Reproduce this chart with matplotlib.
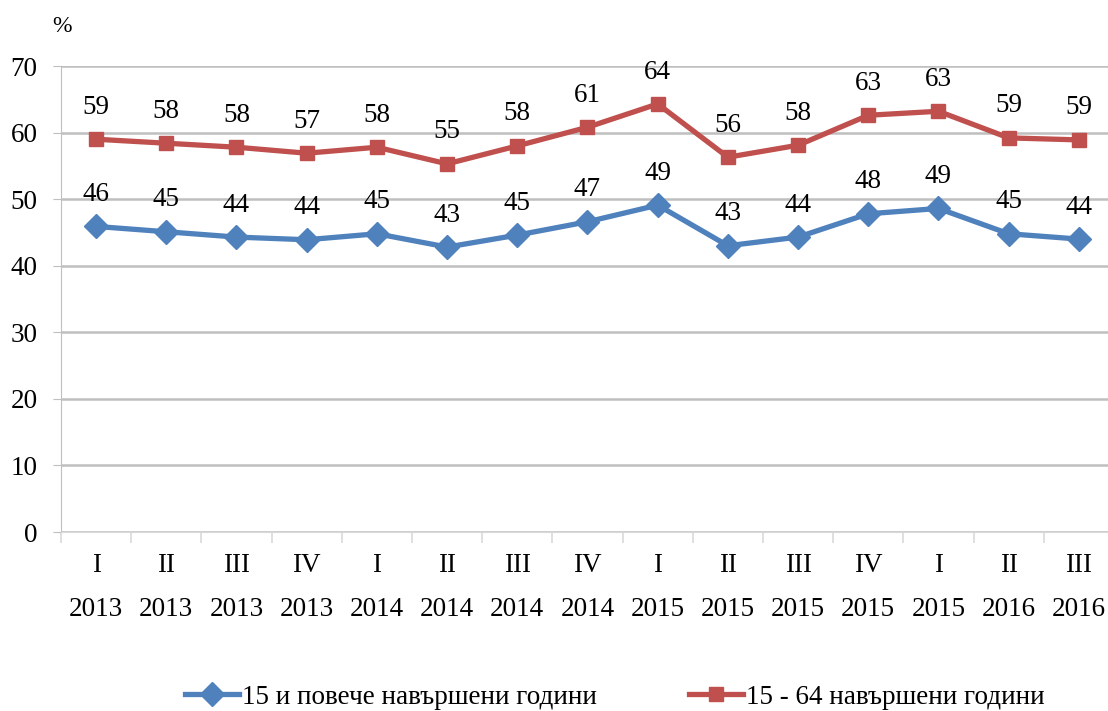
import matplotlib.pyplot as plt
from matplotlib.ticker import FixedLocator

quarters = ["I", "II", "III", "IV", "I", "II", "III", "IV", "I", "II", "III", "IV", "I", "II", "III"]
years = ["2013", "2013", "2013", "2013", "2014", "2014", "2014", "2014",
         "2015", "2015", "2015", "2015", "2015", "2016", "2016"]
s15plus = [45.9, 45.1, 44.3, 43.9, 44.8, 42.8, 44.6, 46.6, 49.1, 43.0, 44.3, 47.8, 48.6, 44.8, 44.0]
s15_64 = [59.0, 58.4, 57.8, 56.9, 57.8, 55.3, 58.0, 60.8, 64.3, 56.3, 58.1, 62.6, 63.2, 59.2, 58.9]
name1 = "15 и повече навършени години"
name2 = "15 - 64 навършени години"

plt.rcParams['font.family'] = ['Liberation Serif', 'DejaVu Serif']
FS = 19.5
fig = plt.figure(figsize=(11.08, 7.11), dpi=100)
ax = fig.add_axes([61 / 1108, 179 / 711, 1053 / 1108, 466 / 711])

x = list(range(len(quarters)))
blue = '#4F81BD'
red = '#C0504D'
ax.plot(x, s15plus, color=blue, lw=3.8, marker='D', ms=12, label=name1, zorder=3)
ax.plot(x, s15_64, color=red, lw=3.8, marker='s', ms=10.5, label=name2, zorder=3)

for xs, v in zip(x, s15plus):
    ax.annotate(f"{v:.0f}", (xs, v), xytext=(0, 23), textcoords='offset points',
                ha='center', va='center', fontsize=FS)
for xs, v in zip(x, s15_64):
    ax.annotate(f"{v:.0f}", (xs, v), xytext=(0, 23), textcoords='offset points',
                ha='center', va='center', fontsize=FS)

ax.set_xlim(-0.5, 14.5)
ax.set_ylim(0, 70)
ax.set_yticks(range(0, 71, 10))
ax.yaxis.grid(True, color='#BFBFBF', lw=1.8)
ax.set_axisbelow(True)
for s in ['top', 'right']:
    ax.spines[s].set_visible(False)
ax.spines['left'].set_color('#BFBFBF')
ax.spines['bottom'].set_color('#D9D9D9')
ax.tick_params(axis='y', length=6, color='#BFBFBF', labelsize=FS, pad=11)

ax.set_xticks(x)
ax.set_xticklabels([f"{q}\n{y}" for q, y in zip(quarters, years)], fontsize=FS, linespacing=2.0)
ax.tick_params(axis='x', length=0, pad=15)
ax.xaxis.set_minor_locator(FixedLocator([i - 0.5 for i in range(16)]))
ax.tick_params(axis='x', which='minor', length=8, color='#D9D9D9', width=1.2)

fig.text(62 / 1108, 1 - 27 / 711, "%", fontsize=17, ha='center', va='center')

fig.legend(loc='center', bbox_to_anchor=(0.555, 1 - 697 / 711), ncol=2, frameon=False,
           fontsize=FS, handlelength=2.0, columnspacing=3.4, handletextpad=0.1)

fig.savefig("out.png", dpi=100)
